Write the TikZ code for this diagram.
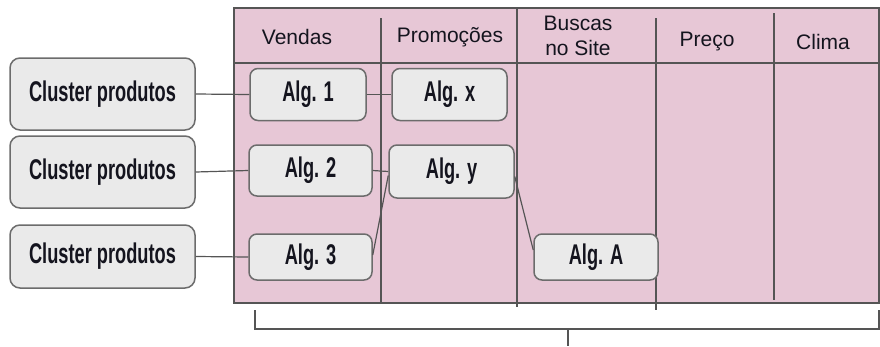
\documentclass[tikz,border=0pt]{standalone}
\usepackage{fontspec}
\setmainfont{Liberation Sans}
\newfontfamily\condfont[FakeStretch=0.64]{Liberation Sans}
\definecolor{pinkbg}{RGB}{231,199,214}
\definecolor{boxfill}{RGB}{234,234,234}
\definecolor{boxline}{RGB}{108,108,108}
\definecolor{linegray}{RGB}{85,85,85}
\definecolor{txt}{RGB}{20,20,30}
\tikzset{
  clbox/.style={draw=boxline, line width=1.5pt, fill=boxfill, rounded corners=10pt,
    minimum width=185pt, inner sep=0pt, text=txt,
    font=\condfont\bfseries\fontsize{28.5}{30}\selectfont},
  algbox/.style={draw=boxline, line width=1.5pt, fill=boxfill, rounded corners=8pt,
    inner sep=0pt, text=txt,
    font=\condfont\bfseries\fontsize{28.5}{30}\selectfont},
  conn/.style={draw=linegray, line width=1.2pt},
  divline/.style={draw=linegray, line width=1.2pt},
  hdr/.style={font=\fontsize{21}{24.5}\selectfont, text=txt, align=center, inner sep=0pt}
}
\begin{document}
\begin{tikzpicture}[x=1pt,y=-1pt]
\useasboundingbox (0,0) rectangle (880,346);
% table background
\draw[fill=pinkbg, draw=linegray, line width=1.5pt] (234,8) rectangle (879,303);
\draw[divline] (234,63) -- (879,63);
\coordinate (d1t) at (381,18);  \coordinate (d1b) at (381,303);
\coordinate (d2t) at (517,8);   \coordinate (d2b) at (517,307);
\coordinate (d3t) at (656,18);  \coordinate (d3b) at (656,310);
\coordinate (d4t) at (774,13);  \coordinate (d4b) at (774,300);
\draw[divline] (d1t) -- (d1b);
\draw[divline] (d2t) -- (d2b);
\draw[divline] (d3t) -- (d3b);
\draw[divline] (d4t) -- (d4b);
% headers
\node[hdr] (h1) at (297,37) {Vendas};
\node[hdr] (h2) at (450,37) {Promoções};
\node[hdr] (h3) at (578,36) {Buscas\\no Site};
\node[hdr] (h4) at (707,41) {Preço};
\node[hdr] (h5) at (823,42) {Clima};
% boxes
\node[clbox, minimum height=72pt] (c1) at (102.5,94) {Cluster produtos};
\node[clbox, minimum height=72pt] (c2) at (102.5,172) {Cluster produtos};
\node[clbox, minimum height=63pt] (c3) at (102.5,256.5) {Cluster produtos};
\node[algbox, minimum width=116pt, minimum height=52pt] (a1) at (308,94.5) {Alg. 1};
\node[algbox, minimum width=123pt, minimum height=51pt] (a2) at (310.5,170.5) {Alg. 2};
\node[algbox, minimum width=123pt, minimum height=46pt] (a3) at (310.5,257) {Alg. 3};
\node[algbox, minimum width=115pt, minimum height=52pt] (ax) at (449.5,94.5) {Alg. x};
\node[algbox, minimum width=125pt, minimum height=53pt] (ay) at (451.5,171.5) {Alg. y};
\node[algbox, minimum width=124pt, minimum height=46pt] (aA) at (596,257) {Alg. A};
% connectors
\draw[conn] (c1.east) -- (a1.west);
\draw[conn] (c2.east) -- (a2.west);
\draw[conn] (c3.east) -- (a3.west);
\draw[conn] (a1.east) -- (ax.west);
\draw[conn] (a2.east) -- (ay.west);
\draw[conn] ([yshift=2pt]a3.east) -- ([yshift=-4pt]ay.west);
\draw[conn] ([yshift=-5pt]ay.east) -- ([yshift=7pt]aA.west);
% bracket
\coordinate (bl) at (255,310);
\coordinate (blc) at (255,329);
\coordinate (brc) at (879,329);
\coordinate (br) at (879,310);
\coordinate (bm) at (568,329);
\coordinate (bmt) at (568,346);
\draw[conn] (bl) -- (blc) -- (brc) -- (br);
\draw[conn] (bm) -- (bmt);
\end{tikzpicture}
\end{document}
